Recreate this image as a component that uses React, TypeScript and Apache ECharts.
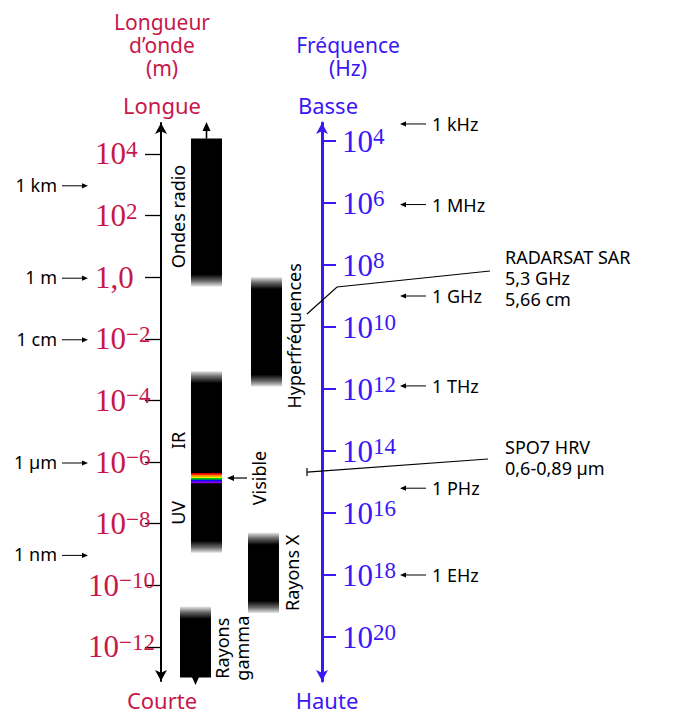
import React, { useEffect, useRef } from 'react';
import * as echarts from 'echarts';

// ---------- data ----------
// log10 of wavelength (m) on the left axis, log10 of frequency (Hz) on the right axis
const wavelengthTicks = [4, 2, 0, -2, -4, -6, -8, -10, -12];
const frequencyTicks = [4, 6, 8, 10, 12, 14, 16, 18, 20];

const bandNames = ['Ondes radio', 'Hyperfréquences', 'IR–UV', 'Rayons X', 'Rayons\ngamma'];
const bandLongestExp = [4.5, 0.0, -3.05, -8.3, -10.7];
const bandShortestExp = [-0.3, -3.55, -8.95, -10.9, -13.0];
const bandFadeLong = [0, 1, 1, 1, 1];
const bandFadeShort = [1, 1, 1, 1, 0];
const bandOpenEnd = ['long', '', '', '', 'short'];

const subBandNames = ['IR', 'UV'];
const subBandExp = [-5.3, -7.65];

const visibleName = 'Visible';
const visibleLongestExp = -6.36;
const visibleShortestExp = -6.68;
const visibleColors = ['#ff0000', '#ff8a00', '#ffee00', '#00c800', '#0010ff', '#8a00ff'];

const wavelengthMarkNames = ['1 km', '1 m', '1 cm', '1 µm', '1 nm'];
const wavelengthMarkExp = [3, 0, -2, -6, -9];

const frequencyMarkNames = ['1 kHz', '1 MHz', '1 GHz', '1 THz', '1 PHz', '1 EHz'];
const frequencyMarkExp = [3.45, 6.05, 9.0, 11.9, 15.2, 18.0];

const sensorNames = ['RADARSAT SAR', 'SPO7 HRV'];
const sensorDetails = [['5,3 GHz', '5,66 cm'], ['0,6-0,89 µm']];
const sensorFreqHighExp = [9.58, 14.55];
const sensorFreqLowExp = [9.58, 14.81];

const wavelengthTitle = ['Longueur', 'd’onde', '(m)'];
const frequencyTitle = ['Fréquence', '(Hz)'];
const wavelengthEnds = ['Longue', 'Courte'];
const frequencyEnds = ['Basse', 'Haute'];

// ---------- styles & layout ----------
const CRIMSON = '#c8174b';
const BLUE = '#3a17f5';
const SANS = '"Noto Sans", sans-serif';
const SERIF = '"Liberation Serif", "Times New Roman", serif';

const GRID = { left: 161, right: 353, top: 123, bottom: 33 };
const WL_MIN = -13.11;
const WL_MAX = 5.006;
const FQ_MIN = 3.419;
const FQ_MAX = 21.419;

const BAND_X = [191, 251, 191, 248, 180];
const BAND_W = 31;
const BAND_LABEL_X = [178, 294, 0, 292, 232];
const BAND_LABEL_DY = [4, 4, 0, 0, 6];
const FADE = 12;
const SENSOR_TEXT_X = 505;
const SENSOR_TEXT_Y = [257, 446.5];
const SENSOR_LINE_GAP = 21;
const TITLE_GAP = 23;

function arrowEls(x1: number, y1: number, x2: number, y2: number, head = 7, half = 3, width = 1) {
  const dx = x2 - x1, dy = y2 - y1;
  const len = Math.hypot(dx, dy) || 1;
  const ux = dx / len, uy = dy / len;
  const bx = x2 - ux * head, by = y2 - uy * head;
  return [
    { type: 'line', shape: { x1, y1, x2: bx + ux, y2: by + uy }, style: { stroke: '#000', lineWidth: width } },
    {
      type: 'polygon',
      shape: { points: [[x2, y2], [bx - uy * half, by + ux * half], [bx + uy * half, by - ux * half]] },
      style: { fill: '#000' },
    },
  ];
}

function wlLabel(v: number) {
  if (v === 0) return '{p| }{b|1,0}';
  const s = (v < 0 ? '−' : '') + Math.abs(v);
  const pad = v <= -10 ? '' : '{p| }';
  return `${pad}{b|10}{s|${s}}`;
}
function fqLabel(v: number) {
  return `{b|10}{s|${v}}`;
}

function richStyles(color: string) {
  return {
    p: { width: 7, fontSize: 10, lineHeight: 32 },
    b: { fontFamily: SERIF, fontSize: 31, lineHeight: 32, color },
    s: { fontFamily: SERIF, fontSize: 23, lineHeight: 12, verticalAlign: 'top', color },
  };
}

function titleText(text: string, x: number, y: number, fill: string, size = 22) {
  return {
    type: 'text',
    x,
    y,
    style: { text, fill, fontSize: size, fontFamily: SANS, align: 'center', verticalAlign: 'middle' },
  };
}

function buildOption(): any {
  const bandData = bandNames.map((n, i) => [0, bandLongestExp[i], bandShortestExp[i], i]);
  const wlMarkData = wavelengthMarkNames.map((n, i) => [0, wavelengthMarkExp[i], i]);
  const fqMarkData = frequencyMarkNames.map((n, i) => [0, frequencyMarkExp[i], i]);
  const sensorData = sensorNames.map((n, i) => [0, sensorFreqHighExp[i], sensorFreqLowExp[i], i]);

  const graphics: any[] = [];
  wavelengthTitle.forEach((t, k) => graphics.push(titleText(t, 162, 22 + k * TITLE_GAP, CRIMSON, 21)));
  frequencyTitle.forEach((t, k) => graphics.push(titleText(t, 348, 45 + k * TITLE_GAP, BLUE, 21)));
  graphics.push(titleText(wavelengthEnds[0], 162, 105, CRIMSON));
  graphics.push(titleText(frequencyEnds[0], 328, 105, BLUE));
  graphics.push(titleText(wavelengthEnds[1], 162, 700, CRIMSON));
  graphics.push(titleText(frequencyEnds[1], 327, 700, BLUE));

  return {
    animation: false,
    backgroundColor: '#ffffff',
    grid: { ...GRID, containLabel: false },
    xAxis: { type: 'value', min: 0, max: 1, show: false },
    yAxis: [
      {
        type: 'value',
        position: 'left',
        min: WL_MIN,
        max: WL_MAX,
        axisLine: {
          show: true,
          onZero: false,
          symbol: ['arrow', 'arrow'],
          symbolSize: [9, 11],
          lineStyle: { color: '#000', width: 2 },
        },
        axisTick: { show: true, customValues: wavelengthTicks, length: 16, lineStyle: { color: '#000', width: 1.3 } },
        axisLabel: {
          show: true,
          customValues: wavelengthTicks,
          formatter: wlLabel,
          align: 'left',
          margin: 73,
          rich: richStyles(CRIMSON),
        },
        splitLine: { show: false },
      },
      {
        type: 'value',
        position: 'right',
        inverse: true,
        min: FQ_MIN,
        max: FQ_MAX,
        axisLine: {
          show: true,
          onZero: false,
          symbol: ['arrow', 'arrow'],
          symbolSize: [9, 11],
          lineStyle: { color: BLUE, width: 3 },
        },
        axisTick: { show: true, customValues: frequencyTicks, length: 14, lineStyle: { color: BLUE, width: 2 } },
        axisLabel: {
          show: true,
          customValues: frequencyTicks,
          formatter: fqLabel,
          align: 'left',
          margin: 20,
          rich: richStyles(BLUE),
        },
        splitLine: { show: false },
      },
    ],
    graphic: { elements: graphics },
    series: [
      // spectral bands
      {
        type: 'custom',
        xAxisIndex: 0,
        yAxisIndex: 0,
        silent: true,
        clip: false,
        data: bandData,
        renderItem: (params: any, api: any) => {
          const i = api.value(3);
          const yTop = api.coord([0, api.value(1)])[1];
          const yBot = api.coord([0, api.value(2)])[1];
          const h = yBot - yTop;
          const f = FADE / h;
          const light = '#e4e4e4';
          const mid = '#6a6a6a';
          const stops: any[] = [];
          if (bandFadeLong[i]) {
            stops.push({ offset: 0, color: light }, { offset: f * 0.45, color: mid }, { offset: f, color: '#000' });
          } else stops.push({ offset: 0, color: '#000' });
          if (bandFadeShort[i]) {
            stops.push({ offset: 1 - f, color: '#000' }, { offset: 1 - f * 0.45, color: mid }, { offset: 1, color: light });
          } else stops.push({ offset: 1, color: '#000' });
          const x0 = BAND_X[i];
          const cx = x0 + BAND_W / 2;
          const children: any[] = [
            {
              type: 'rect',
              shape: { x: x0, y: yTop, width: BAND_W, height: h },
              style: { fill: new echarts.graphic.LinearGradient(0, 0, 0, 1, stops) },
            },
          ];
          const cs = params.coordSys;
          if (bandOpenEnd[i] === 'long') children.push(...arrowEls(cx, yTop, cx, cs.y - 1, 9, 4, 1.6));
          if (bandOpenEnd[i] === 'short') children.push(...arrowEls(cx, yBot, cx, cs.y + cs.height + 4, 9, 4, 1.6));
          if (i !== 2) {
            children.push({
              type: 'text',
              x: BAND_LABEL_X[i],
              y: (yTop + yBot) / 2 + BAND_LABEL_DY[i],
              rotation: Math.PI / 2,
              style: {
                text: bandNames[i],
                fill: '#000',
                fontSize: 18,
                fontFamily: SANS,
                align: 'center',
                verticalAlign: 'middle',
                lineHeight: 20,
              },
            });
          }
          return { type: 'group', children };
        },
      },
      // visible stripes & IR / UV labels
      {
        type: 'custom',
        xAxisIndex: 0,
        yAxisIndex: 0,
        silent: true,
        clip: false,
        data: [[0, visibleLongestExp, visibleShortestExp]],
        renderItem: (params: any, api: any) => {
          const y0 = api.coord([0, api.value(1)])[1];
          const y1 = api.coord([0, api.value(2)])[1];
          const n = visibleColors.length;
          const step = (y1 - y0) / n;
          const x0 = BAND_X[2];
          const children: any[] = visibleColors.map((c, k) => ({
            type: 'rect',
            shape: { x: x0, y: y0 + k * step, width: BAND_W, height: step + 0.3 },
            style: { fill: c },
          }));
          const yc = (y0 + y1) / 2;
          children.push(...arrowEls(247, yc, 227, yc, 7, 3, 1.2));
          children.push({
            type: 'text',
            x: 259,
            y: yc,
            rotation: Math.PI / 2,
            style: { text: visibleName, fill: '#000', fontSize: 18, fontFamily: SANS, align: 'center', verticalAlign: 'middle' },
          });
          subBandNames.forEach((nm, k) => {
            children.push({
              type: 'text',
              x: 178,
              y: api.coord([0, subBandExp[k]])[1],
              rotation: Math.PI / 2,
              style: { text: nm, fill: '#000', fontSize: 18, fontFamily: SANS, align: 'center', verticalAlign: 'middle' },
            });
          });
          return { type: 'group', children };
        },
      },
      // wavelength reference marks
      {
        type: 'custom',
        xAxisIndex: 0,
        yAxisIndex: 0,
        silent: true,
        clip: false,
        data: wlMarkData,
        renderItem: (params: any, api: any) => {
          const i = api.value(2);
          const y = api.coord([0, api.value(1)])[1];
          return {
            type: 'group',
            children: [
              {
                type: 'text',
                x: 57,
                y,
                style: { text: wavelengthMarkNames[i], fill: '#000', fontSize: 18, fontFamily: SANS, align: 'right', verticalAlign: 'middle' },
              },
              ...arrowEls(62, y + 1, 88, y + 1, 6, 2.6, 1),
            ],
          };
        },
      },
      // frequency reference marks
      {
        type: 'custom',
        xAxisIndex: 0,
        yAxisIndex: 1,
        silent: true,
        clip: false,
        data: fqMarkData,
        renderItem: (params: any, api: any) => {
          const i = api.value(2);
          const y = api.coord([0, api.value(1)])[1];
          return {
            type: 'group',
            children: [
              ...arrowEls(426, y, 400, y, 6, 2.6, 1),
              {
                type: 'text',
                x: 432,
                y,
                style: { text: frequencyMarkNames[i], fill: '#000', fontSize: 18, fontFamily: SANS, align: 'left', verticalAlign: 'middle' },
              },
            ],
          };
        },
      },
      // satellite sensors
      {
        type: 'custom',
        xAxisIndex: 0,
        yAxisIndex: 1,
        silent: true,
        clip: false,
        data: sensorData,
        renderItem: (params: any, api: any) => {
          const i = api.value(3);
          const ya = api.coord([0, api.value(1)])[1];
          const yb = api.coord([0, api.value(2)])[1];
          const yc = (ya + yb) / 2;
          const x = 307;
          const children: any[] = [];
          if (i === 0) {
            children.push({
              type: 'polyline',
              shape: { points: [[x, yc], [337, 287], [490, 271]] },
              style: { stroke: '#000', lineWidth: 1.2, fill: 'none' },
            });
          } else {
            children.push({ type: 'line', shape: { x1: x, y1: ya, x2: x, y2: yb }, style: { stroke: '#000', lineWidth: 1.2 } });
            children.push({ type: 'line', shape: { x1: x, y1: yc, x2: 488, y2: 459 }, style: { stroke: '#000', lineWidth: 1.2 } });
          }
          const lines = [sensorNames[i], ...sensorDetails[i]];
          lines.forEach((t, k) => {
            children.push({
              type: 'text',
              x: SENSOR_TEXT_X,
              y: SENSOR_TEXT_Y[i] + k * SENSOR_LINE_GAP,
              style: { text: t, fill: '#000', fontSize: 18, fontFamily: SANS, align: 'left', verticalAlign: 'middle' },
            });
          });
          return { type: 'group', children };
        },
      },
    ],
  };
}

export default function App() {
  const ref = useRef<HTMLDivElement>(null);
  useEffect(() => {
    if (!ref.current) return;
    const chart = echarts.init(ref.current, null, { renderer: 'svg' });
    chart.setOption(buildOption());
    return () => chart.dispose();
  }, []);
  return (
    <div
      ref={ref}
      style={{ position: 'fixed', left: 0, top: 0, width: 675, height: 714, background: '#fff' }}
    />
  );
}
